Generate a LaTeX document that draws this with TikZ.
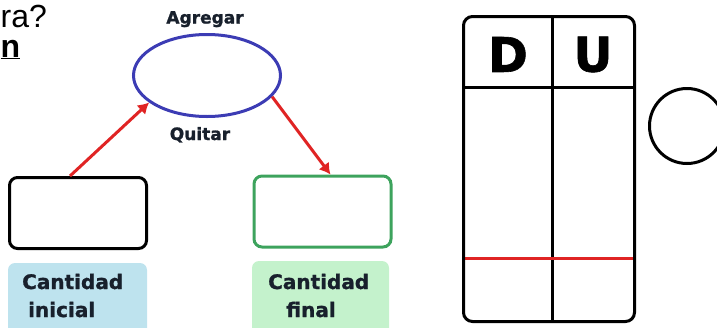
\documentclass[tikz,border=0pt]{standalone}
\usepackage{fontspec}
\setmainfont{Liberation Sans}
\newfontfamily\gruesa{DejaVu Sans Bold}[FakeBold=1.2]
\usepackage{tikz}
\usetikzlibrary{arrows.meta}
\usetikzlibrary{shapes.geometric}
\definecolor{azulop}{HTML}{3C3CB4}
\definecolor{rojoflecha}{HTML}{E02424}
\definecolor{verdecaja}{HTML}{3DA35D}
\definecolor{celeste}{HTML}{BEE3EE}
\definecolor{verdeclaro}{HTML}{C4F2CC}
\definecolor{tinta}{HTML}{18202C}

\begin{document}
\begin{tikzpicture}[x=1pt,y=-1pt,
  caja/.style={draw,line width=3pt,rounded corners=8pt,minimum width=137pt,minimum height=71pt,inner sep=0pt},
  flecha/.style={draw=rojoflecha,line width=3pt,-{Latex[length=11pt,width=13pt]}},
  rotulo/.style={font=\gruesa\fontsize{20}{24}\selectfont,text=tinta,inner sep=0pt},
  palabra/.style={font=\gruesa\fontsize{17}{20}\selectfont,text=tinta,inner sep=0pt,anchor=base}]
\useasboundingbox (0,0) rectangle (717,327);
% texto arriba a la izquierda
\node[anchor=base west,inner sep=0pt,font=\fontsize{32}{36}\selectfont] (preg) at (0.5,27) {ra?};
\node[anchor=base west,inner sep=0pt,font=\bfseries\fontsize{32}{36}\selectfont] (resp) at (0.5,57) {\underline{n}};
% operacion
\node[ellipse,draw=azulop,line width=3pt,minimum width=147pt,minimum height=82pt,inner sep=0pt] (ops) at (207,75.5) {};
\node[palabra] (agregar) at (205,23.5) {Agregar};
\node[palabra] (quitar) at (200,140) {Quitar};
% cajas
\node[caja] (inicio) at (78,213) {};
\node[caja,draw=verdecaja] (final) at (322.5,211.5) {};
\draw[flecha] ([xshift=-8pt]inicio.north) -- (ops.205);
\draw[flecha] (ops.342) -- ([xshift=8pt]final.north);
% etiquetas
\fill[celeste,rounded corners=7pt] (8,263) rectangle (147,340);
\fill[verdeclaro,rounded corners=7pt] (252,261) rectangle (389,340);
\node[rotulo,anchor=base west] (cantA) at (22,289) {Cantidad};
\node[rotulo,anchor=base west] (ini) at (28,317) {inicial};
\node[rotulo,anchor=base west] (cantB) at (268,289) {Cantidad};
\node[rotulo,anchor=base] (fin) at (311,317) {final};
% tabla de decenas y unidades
\draw[line width=3pt] (552,15) -- (552,323);
\draw[line width=3pt] (462,87) -- (636,87);
\draw[rojoflecha,line width=3pt] (463,258) -- (635,258);
\draw[line width=3pt,rounded corners=9pt] (463.5,16.5) rectangle (634.5,321.5);
\node[font=\gruesa\fontsize{48}{52}\selectfont,inner sep=0pt] (dec) at (508,54.5) {D};
\node[font=\gruesa\fontsize{48}{52}\selectfont,inner sep=0pt] (uni) at (593,54.5) {U};
\draw[line width=3pt] (687,126) circle (37.5pt);
\end{tikzpicture}
\end{document}
